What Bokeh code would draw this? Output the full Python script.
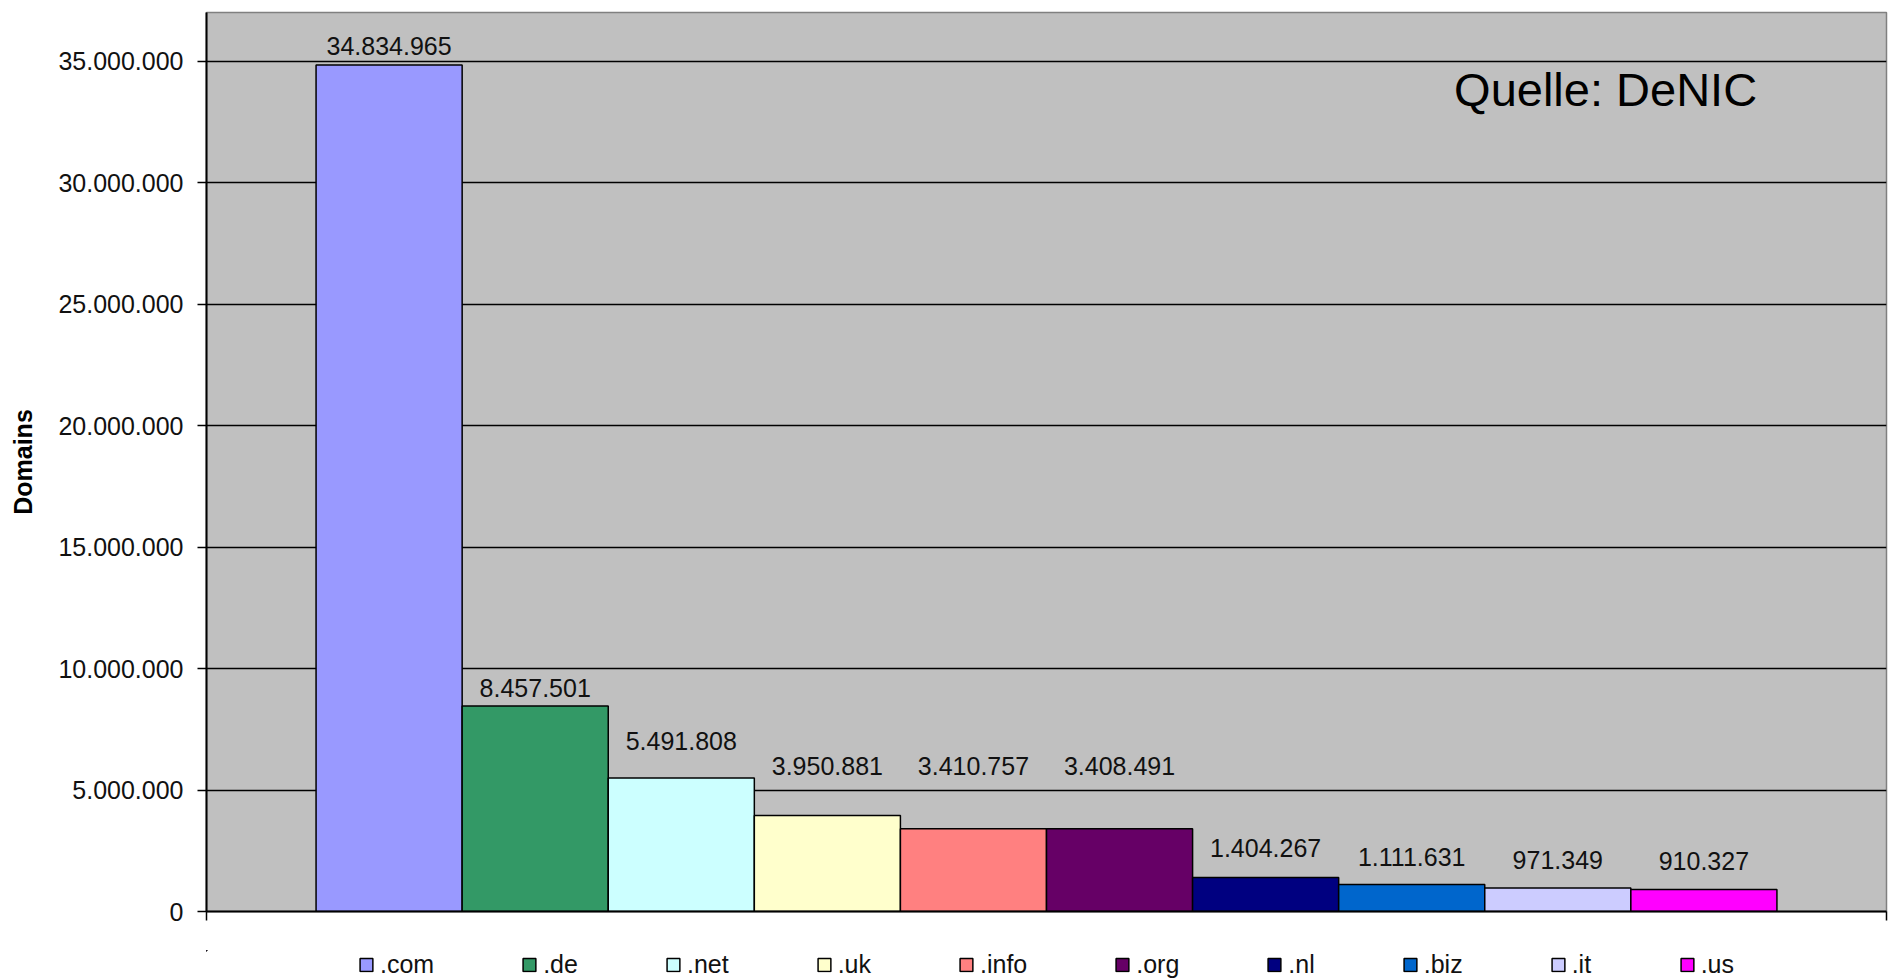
from bokeh.plotting import figure
from bokeh.layouts import column
from bokeh.models import (ColumnDataSource, Range1d, FixedTicker, CustomJSTickFormatter,
                          Legend, LegendItem, Label)
from bokeh.core.properties import value
from bokeh.embed import file_html
from bokeh.resources import INLINE

# Registered domains per top-level domain
tlds = [".com", ".de", ".net", ".uk", ".info", ".org", ".nl", ".biz", ".it", ".us"]
domains = [34834965, 8457501, 5491808, 3950881, 3410757, 3408491, 1404267, 1111631, 971349, 910327]
bar_colors = ["#9999FF", "#339966", "#CCFFFF", "#FFFFCC", "#FF8080",
              "#660066", "#000080", "#0066CC", "#CCCCFF", "#FF00FF"]
y_ticks = [0, 5000000, 10000000, 15000000, 20000000, 25000000, 30000000, 35000000]

# Gap (px) between each bar top and the baseline of its value label
label_lift = [11, 10, 29, 42, 55, 55, 21, 19, 20, 20]

FONT = "Liberation Sans"
LABEL_SIZE = 25
# the text glyph lands a little low on its alphabetic baseline; lift it back
BASELINE_FIX = 0.32 * LABEL_SIZE


def de_format(v):
    return f"{v:,}".replace(",", ".")


pos = list(range(len(tlds)))
source = ColumnDataSource(dict(
    x=pos,
    top=domains,
    tld=tlds,
    color=bar_colors,
    text=[de_format(v) for v in domains],
    dy=[-(d + BASELINE_FIX) for d in label_lift],
))

x_range = Range1d(-1.25, len(tlds) + 0.25)

p = figure(width=1891, height=950, output_backend="svg", toolbar_location=None,
           x_range=x_range, y_range=Range1d(0, 37000000),
           min_border_left=206, min_border_right=5, min_border_top=12, min_border_bottom=39)

p.background_fill_color = "#C0C0C0"
p.border_fill_color = "white"
p.outline_line_color = "#808080"
p.outline_line_width = 1.5

bars = p.vbar(x="x", top="top", width=1.0, source=source,
              fill_color="color", line_color="black", line_width=1.5)

p.text(x="x", y="top", text="text", source=source, y_offset="dy",
       text_align="center", text_baseline="alphabetic",
       text_font=value(FONT), text_font_size=f"{LABEL_SIZE}px", text_color="#111111")

# y axis
p.yaxis.ticker = FixedTicker(ticks=y_ticks)
p.yaxis.formatter = CustomJSTickFormatter(
    code='return tick.toFixed(0).replace(/\\B(?=(\\d{3})+(?!\\d))/g, ".");')
p.yaxis.axis_label = "Domains"
p.yaxis.axis_label_text_font = FONT
p.yaxis.axis_label_text_font_style = "bold"
p.yaxis.axis_label_text_font_size = "25px"
p.yaxis.axis_label_text_color = "black"
p.yaxis.axis_label_standoff = 18
p.yaxis.major_label_text_font = FONT
p.yaxis.major_label_text_font_size = "25px"
p.yaxis.major_label_text_color = "#111111"
p.yaxis.major_label_standoff = 14
p.yaxis.major_tick_out = 9
p.yaxis.major_tick_in = 0
p.yaxis.minor_tick_line_color = None
p.yaxis.axis_line_color = "black"
p.yaxis.axis_line_width = 2
p.yaxis.major_tick_line_color = "black"
p.yaxis.major_tick_line_width = 1.5

# x axis: plain baseline with end ticks only
p.xaxis.ticker = FixedTicker(ticks=[-1.25, len(tlds) + 0.25])
p.xaxis.formatter = CustomJSTickFormatter(code='return "";')
p.xaxis.major_label_text_font_size = "12px"
p.xaxis.major_label_standoff = 0
p.xaxis.major_tick_out = 9
p.xaxis.major_tick_in = 0
p.xaxis.minor_tick_line_color = None
p.xaxis.axis_line_color = "black"
p.xaxis.axis_line_width = 2
p.xaxis.major_tick_line_color = "black"
p.xaxis.major_tick_line_width = 1.5

p.xgrid.grid_line_color = None
p.ygrid.grid_line_color = "black"
p.ygrid.grid_line_width = 1.5
p.ygrid.ticker = FixedTicker(ticks=y_ticks)

p.add_layout(Label(x=7.29, y=33830000, text="Quelle: DeNIC", text_font=FONT,
                   text_font_size="47px", text_color="black", text_baseline="alphabetic"))

# Legend strip under the chart; its bars lie far outside the strip's ranges so only the key shows
key = figure(width=1891, height=28, output_backend="svg", toolbar_location=None,
             x_range=Range1d(1000, 1001), y_range=Range1d(-1000001, -1000000),
             x_axis_location=None, y_axis_location=None,
             min_border_left=206, min_border_right=5, min_border_top=0, min_border_bottom=0)
key.outline_line_color = None
key.background_fill_color = "white"
key.border_fill_color = "white"
key.grid.visible = False
key_bars = key.vbar(x="x", top="top", width=1.0, source=source,
                    fill_color="color", line_color="black", line_width=1.5)

legend = Legend(
    items=[LegendItem(label=t, renderers=[key_bars], index=i) for i, t in enumerate(tlds)],
    orientation="horizontal", location="center",
    spacing=87, glyph_width=16, glyph_height=16, label_standoff=6, label_height=16,
    label_text_font=FONT, label_text_font_size="25px", label_text_color="#111111",
    border_line_color=None, background_fill_alpha=0, padding=0, margin=0,
)
key.add_layout(legend)

page = column(p, key, spacing=0)

open("out.html", "w").write(file_html(page, INLINE))
